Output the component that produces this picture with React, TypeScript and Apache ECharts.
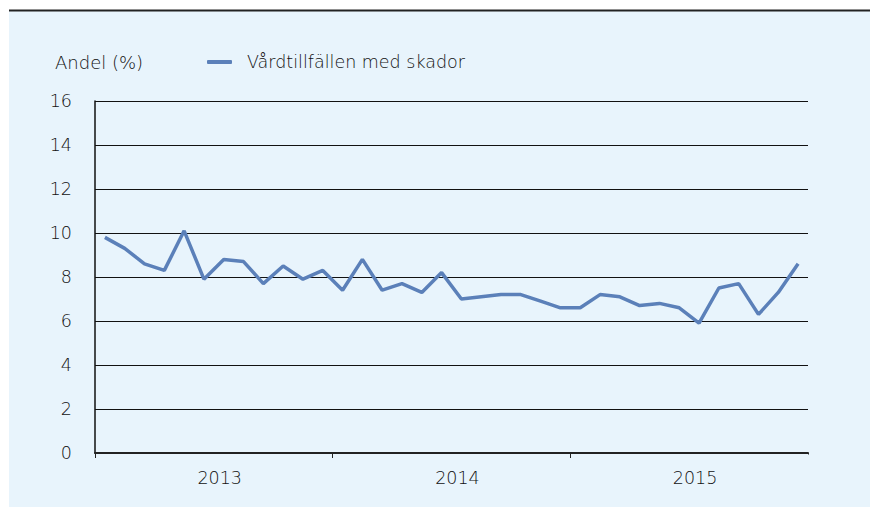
import React, { useEffect, useRef } from "react";
import * as echarts from "echarts";

const years = ["2013", "2014", "2015"];
const monthNames = ["01", "02", "03", "04", "05", "06", "07", "08", "09", "10", "11", "12"];
const categories: string[] = years.flatMap((y) => monthNames.map((m) => `${y}-${m}`));

const seriesName = "Vårdtillfällen med skador";
const values = [
  9.8, 9.3, 8.6, 8.3, 10.1, 7.9, 8.8, 8.7, 7.7, 8.5, 7.9, 8.3,
  7.4, 8.8, 7.4, 7.7, 7.3, 8.2, 7.0, 7.1, 7.2, 7.2, 6.9, 6.6,
  6.6, 7.2, 7.1, 6.7, 6.8, 6.6, 5.9, 7.5, 7.7, 6.3, 7.3, 8.6,
];

const yTicks = [0, 2, 4, 6, 8, 10, 12, 14, 16];
const yAxisTitle = "Andel (%)";

const FONT = "'DejaVu Sans', sans-serif";
const WEIGHT = 300;
const TEXT = "#111";
const BG = "#e8f4fc";

export default function App() {
  const ref = useRef<HTMLDivElement>(null);
  useEffect(() => {
    if (!ref.current) return;
    const chart = echarts.init(ref.current, null, { renderer: "svg" });
    chart.setOption({
      animation: false,
      backgroundColor: BG,
      textStyle: { fontFamily: FONT },
      title: {
        text: yAxisTitle,
        left: 55,
        top: 53,
        padding: 0,
        textStyle: { fontSize: 18, fontWeight: WEIGHT, color: TEXT, fontFamily: FONT },
      },
      legend: {
        data: [seriesName],
        left: 207,
        top: 53,
        padding: 0,
        itemWidth: 25,
        itemHeight: 4,
        icon: "roundRect",
        textStyle: { fontSize: 17.5, fontWeight: WEIGHT, color: TEXT, fontFamily: FONT, padding: [0, 0, 0, 10] },
      },
      grid: { left: 95, top: 101, width: 713, height: 352, containLabel: false },
      xAxis: {
        type: "category",
        data: categories,
        boundaryGap: true,
        axisLine: { show: true, lineStyle: { color: "#222", width: 2 } },
        axisTick: {
          show: true,
          length: 5,
          interval: (i: number) => i % 12 === 0,
          lineStyle: { color: "#222", width: 1 },
        },
        axisLabel: {
          interval: (i: number) => i % 12 === 6,
          formatter: (v: string) => v.slice(0, 4),
          fontSize: 17.5,
          fontWeight: WEIGHT,
          color: TEXT,
          fontFamily: FONT,
          margin: 16,
          padding: [0, 8, 0, 0],
        },
        splitLine: { show: false },
      },
      yAxis: {
        type: "value",
        min: yTicks[0],
        max: yTicks[yTicks.length - 1],
        interval: 2,
        axisLine: { show: true, lineStyle: { color: "#111", width: 1.5 } },
        axisTick: { show: false },
        axisLabel: { fontSize: 17.5, fontWeight: WEIGHT, color: TEXT, fontFamily: FONT, margin: 23 },
        splitLine: { show: true, lineStyle: { color: "#111", width: 1 } },
      },
      graphic: [
        { type: "rect", shape: { x: 0, y: 0, width: 9, height: 507 }, style: { fill: "#fff" } },
        { type: "rect", shape: { x: 0, y: 0, width: 870, height: 10 }, style: { fill: "#fff" } },
        { type: "line", shape: { x1: 9, y1: 10.5, x2: 870, y2: 10.5 }, style: { stroke: "#222", lineWidth: 2 } },
        { type: "rect", z: 100, shape: { x: 806, y: 454.5, width: 5, height: 6 }, style: { fill: BG } },
      ],
      series: [
        {
          name: seriesName,
          type: "line",
          data: values,
          symbol: "none",
          lineStyle: { color: "#5b80b9", width: 3.5 },
          itemStyle: { color: "#5b80b9" },
        },
      ],
    });
    return () => chart.dispose();
  }, []);
  return (
    <div
      ref={ref}
      style={{ position: "absolute", left: 0, top: 0, width: 870, height: 507 }}
    />
  );
}
